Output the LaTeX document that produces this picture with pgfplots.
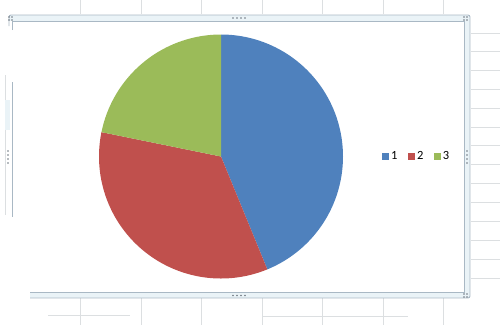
\documentclass[border=0pt]{standalone}
\usepackage{pgfplots}
\usepackage{pgfplotstable}
\pgfplotsset{compat=1.18}
\usepackage{fontspec}
\setmainfont{Carlito}
\definecolor{pblue}{HTML}{4F81BD}
\definecolor{pred}{HTML}{C0504D}
\definecolor{pgreen}{HTML}{9BBB59}
\definecolor{gridc}{HTML}{DCDFE1}
\definecolor{framefill}{HTML}{EAF3F7}
\definecolor{frameedge}{HTML}{A9B8C4}
\definecolor{dotc}{HTML}{6E7780}

\pgfplotstableread{
label value
1 43.8
2 34.4
3 21.8
}\piedata
\pgfplotstablegetelem{0}{value}\of\piedata \let\va\pgfplotsretval
\pgfplotstablegetelem{1}{value}\of\piedata \let\vb\pgfplotsretval
\pgfplotstablegetelem{2}{value}\of\piedata \let\vc\pgfplotsretval
\pgfmathsetmacro\total{\va+\vb+\vc}
\pgfmathsetmacro\aA{90-360*\va/\total}
\pgfmathsetmacro\aB{\aA-360*\vb/\total}
\pgfmathsetmacro\aC{\aB-360*\vc/\total}

\begin{document}
\begin{tikzpicture}
\begin{scope}[x=1pt,y=-1pt]
\useasboundingbox (0,0) rectangle (500,325);
% spreadsheet cell grid
\foreach \xx in {80,141,201,262,322,383,443}{
  \draw[gridc,line width=0.8pt] (\xx,0) -- (\xx,14);
  \draw[gridc,line width=0.8pt] (\xx,298) -- (\xx,325);
}
\foreach \yy in {33,51,70,89,108,127,145,164,183,202,221,240,259,278}{
  \draw[gridc,line width=0.8pt] (471,\yy) -- (500,\yy);
}
\draw[gridc,line width=0.8pt] (48,315) -- (130,315);
\draw[gridc,line width=0.8pt] (262,316) -- (408,316);
\draw[gridc,line width=0.8pt] (5,75) -- (5,215);
% chart selection frame
\fill[framefill] (9,15) rectangle (470,21);
\fill[framefill] (464,15) rectangle (470,298);
\fill[framefill] (30,292.5) rectangle (470,298);
\draw[frameedge,line width=0.9pt,rounded corners=2pt] (9,26) -- (9,15) -- (470,15) -- (470,298) -- (30,298);
\draw[frameedge,line width=0.9pt] (12,30) -- (12,21) -- (464.5,21) -- (464.5,292.5) -- (30,292.5);
\draw[frameedge,line width=0.9pt] (12,82) -- (12,217);
\fill[framefill] (5,100) rectangle (10,130);
% handles
\foreach \xx in {233,237,241,245}{
  \fill[dotc] (\xx,18) circle (0.9);
  \fill[dotc] (\xx,295.5) circle (0.9);
}
\foreach \yy in {151,155,159,163}{
  \fill[dotc] (467,\yy) circle (0.9);
  \fill[dotc] (8,\yy) circle (0.9);
}
\foreach \xx/\yy in {9/17,12/17,9/20,12/20,464/17,467/17,464/20,467/20,464/294,467/294,464/297,467/297}{
  \fill[dotc] (\xx,\yy) circle (0.8);
}
\end{scope}
\begin{axis}[
  at={(221pt,-156.5pt)}, anchor=center,
  width=244pt, height=244pt, scale only axis,
  hide axis, clip=false,
  xmin=-1, xmax=1, ymin=-1, ymax=1,
  legend columns=3,
  legend image code/.code={\fill[#1] (0pt,-3.5pt) rectangle (7pt,3.5pt);},
  legend style={at={(axis description cs:1,0.5)}, anchor=west, xshift=39pt,
    draw=none, fill=none, inner sep=0pt,
    font=\fontsize{12.5}{14}\selectfont,
    /tikz/every even column/.append style={column sep=8.5pt}},
]
\addplot[draw=none, fill=pblue, domain=\aA:90, samples=150, variable=\t] ({cos(\t)},{sin(\t)}) -- (0,0) -- cycle;
\addlegendentry{1}
\addplot[draw=none, fill=pred, domain=\aB:\aA, samples=150, variable=\t] ({cos(\t)},{sin(\t)}) -- (0,0) -- cycle;
\addlegendentry{2}
\addplot[draw=none, fill=pgreen, domain=\aC:\aB, samples=150, variable=\t] ({cos(\t)},{sin(\t)}) -- (0,0) -- cycle;
\addlegendentry{3}
\end{axis}
\end{tikzpicture}
\end{document}
